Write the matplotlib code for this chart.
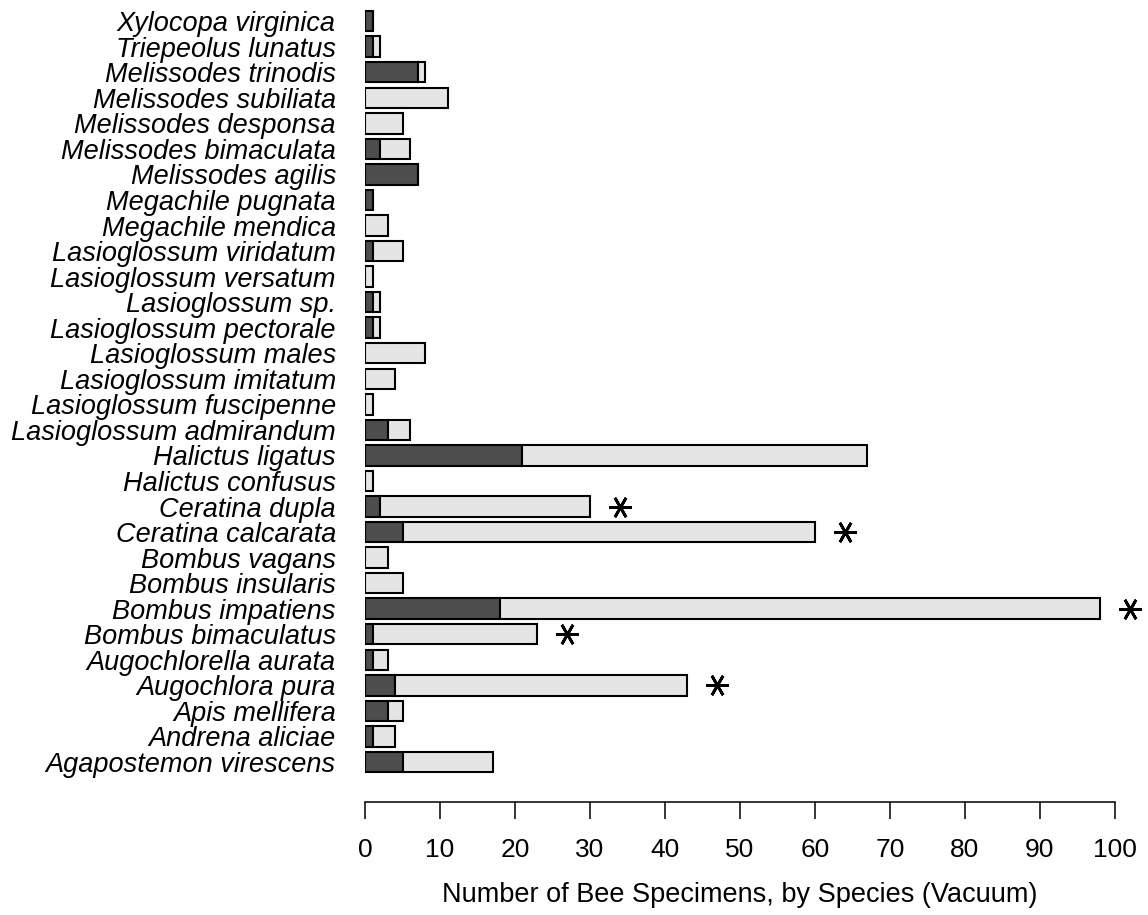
import matplotlib.pyplot as plt
import numpy as np

plt.rcParams['font.family'] = ['Liberation Sans', 'DejaVu Sans']

# species as shown top to bottom
species = [
    "Xylocopa virginica", "Triepeolus lunatus", "Melissodes trinodis",
    "Melissodes subiliata", "Melissodes desponsa", "Melissodes bimaculata",
    "Melissodes agilis", "Megachile pugnata", "Megachile mendica",
    "Lasioglossum viridatum", "Lasioglossum versatum", "Lasioglossum sp.",
    "Lasioglossum pectorale", "Lasioglossum males", "Lasioglossum imitatum",
    "Lasioglossum fuscipenne", "Lasioglossum admirandum", "Halictus ligatus",
    "Halictus confusus", "Ceratina dupla", "Ceratina calcarata",
    "Bombus vagans", "Bombus insularis", "Bombus impatiens",
    "Bombus bimaculatus", "Augochlorella aurata", "Augochlora pura",
    "Apis mellifera", "Andrena aliciae", "Agapostemon virescens",
]
dark = [1, 1, 7, 0, 0, 2, 7, 1, 0, 1, 0, 1, 1, 0, 0, 0, 3, 21, 0, 2, 5,
        0, 0, 18, 1, 1, 4, 3, 1, 5]
total = [1, 2, 8, 11, 5, 6, 7, 1, 3, 5, 1, 2, 2, 8, 4, 1, 6, 67, 1, 30, 60,
         3, 5, 98, 23, 3, 43, 5, 4, 17]
signif = [0, 0, 0, 0, 0, 0, 0, 0, 0, 0, 0, 0, 0, 0, 0, 0, 0, 0, 0, 1, 1,
          0, 0, 1, 1, 0, 1, 0, 0, 0]

# plot bottom-up
species = species[::-1]
dark = np.array(dark[::-1])
total = np.array(total[::-1])
signif = np.array(signif[::-1])
light = total - dark
y = np.arange(len(species))

fig = plt.figure(figsize=(11.48, 9.15), dpi=100)
ax = fig.add_axes([0.318, 0.1235, 0.653, 0.871])

ax.barh(y, dark, height=0.8, color="#4d4d4d", edgecolor="black", linewidth=1.5)
ax.barh(y, light, left=dark, height=0.8, color="#e5e5e5", edgecolor="black", linewidth=1.5)

# significance stars
sy = y[signif == 1]
sx = total[signif == 1] + 4
ax.plot(sx, sy, linestyle="none", marker=(6, 2, 90), markersize=16,
        markeredgewidth=2, color="black", clip_on=False)

ax.set_xlim(0, 100)
ax.set_ylim(-1.566, 29.63)
ax.set_yticks(y)
ax.set_yticklabels(species, fontsize=19.5, style="italic")
ax.tick_params(axis="y", length=0, pad=21)
ax.set_xticks(np.arange(0, 101, 10))
ax.tick_params(axis="x", length=12, width=1.1, labelsize=19, pad=14)

for s in ["top", "right", "left"]:
    ax.spines[s].set_visible(False)
ax.spines["bottom"].set_bounds(0, 100)
ax.spines["bottom"].set_linewidth(1.1)

ax.set_xlabel("Number of Bee Specimens, by Species (Vacuum)", fontsize=19.5, labelpad=14)

fig.savefig("out.png", dpi=100)
